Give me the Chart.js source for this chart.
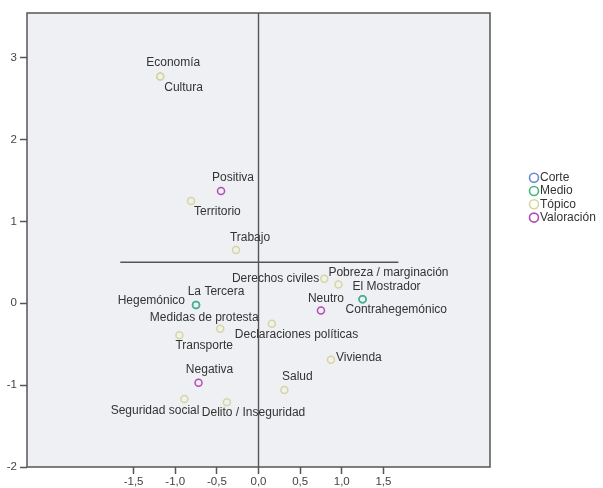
<!DOCTYPE html>
<html>
<head>
<meta charset="utf-8">
<script src="https://cdn.jsdelivr.net/npm/chart.js@4"></script>
<style>
  html, body { margin: 0; padding: 0; background: #fff; }
  #wrap { width: 603px; height: 488px; }
</style>
</head>
<body>
<div id="wrap"><canvas id="plot" width="603" height="488"></canvas></div>
<script>
// Corte
const corteLabels = ['Hegemónico', 'Contrahegemónico'];
const corteX = [-0.75, 1.25];
const corteY = [-0.02, 0.05];

// Medio
const medioLabels = ['La Tercera', 'El Mostrador'];
const medioX = [-0.75, 1.25];
const medioY = [-0.02, 0.05];

// Tópico
const topicoLabels = ['Economía', 'Cultura', 'Territorio', 'Trabajo', 'Derechos civiles',
    'Pobreza / marginación', 'Declaraciones políticas', 'Vivienda', 'Salud',
    'Medidas de protesta', 'Transporte', 'Seguridad social', 'Delito / Inseguridad'];
const topicoX = [-1.18, -1.18, -0.81, -0.27, 0.79, 0.96, 0.16, 0.87, 0.31, -0.46, -0.95, -0.89, -0.38];
const topicoY = [2.77, 2.77, 1.25, 0.65, 0.30, 0.23, -0.25, -0.69, -1.06, -0.31, -0.39, -1.17, -1.21];

// Valoración
const valorLabels = ['Positiva', 'Neutro', 'Negativa'];
const valorX = [-0.45, 0.75, -0.72];
const valorY = [1.37, -0.09, -0.97];

const xTicks = [-1.5, -1.0, -0.5, 0.0, 0.5, 1.0, 1.5];
const yTicks = [-2, -1, 0, 1, 2, 3];
const xRange = [-2.78, 2.78];
const yRange = [-2, 3.545];
const refLineY = 0.5;
const refLineX = [-1.66, 1.68];

const FONT = '"Liberation Sans", Arial, sans-serif';

// where each point's text sits next to its marker
const labelPlace = {
    'Economía': ['center', 13, -14],
    'Cultura': ['left', 4, 11],
    'Positiva': ['center', 12, -13],
    'Territorio': ['left', 3, 11],
    'Trabajo': ['center', 14, -12],
    'Derechos civiles': ['right', -5, 0],
    'Pobreza / marginación': ['left', -10, -12],
    'El Mostrador': ['left', -10, -12],
    'Contrahegemónico': ['left', -17, 11],
    'Neutro': ['center', 5, -12],
    'Declaraciones políticas': ['left', -37, 11],
    'Vivienda': ['left', 5, -2],
    'Salud': ['center', 13, -13],
    'La Tercera': ['center', 20, -13],
    'Hegemónico': ['right', -11, -4],
    'Medidas de protesta': ['center', -16, -11],
    'Transporte': ['left', -4, 11],
    'Negativa': ['center', 11, -13],
    'Seguridad social': ['right', 15, 12],
    'Delito / Inseguridad': ['left', -25, 10]
};

function pts(xs, ys, names) {
    return xs.map((x, i) => ({ x: x, y: ys[i], name: names[i] }));
}

function group(label, xs, ys, names, color, order) {
    return {
        type: 'scatter',
        label: label,
        data: pts(xs, ys, names),
        borderColor: color,
        backgroundColor: 'rgba(0,0,0,0)',
        pointRadius: 3.5,
        pointBorderWidth: 1.5,
        order: order
    };
}

function refLine(data) {
    return {
        type: 'line',
        label: '',
        data: data,
        borderColor: '#555',
        borderWidth: 1.4,
        pointRadius: 0,
        fill: false,
        isRef: true,
        order: 10
    };
}

const plotBg = {
    id: 'plotBg',
    beforeDraw(chart) {
        const a = chart.chartArea, c = chart.ctx;
        c.save();
        c.fillStyle = '#eef0f3';
        c.fillRect(a.left, a.top, a.right - a.left, a.bottom - a.top);
        c.restore();
    },
    afterDraw(chart) {
        const a = chart.chartArea, c = chart.ctx;
        c.save();
        c.strokeStyle = '#555';
        c.lineWidth = 1.5;
        c.strokeRect(a.left, a.top, a.right - a.left, a.bottom - a.top);
        c.restore();
    }
};

const pointText = {
    id: 'pointText',
    afterDatasetsDraw(chart) {
        const c = chart.ctx;
        c.save();
        c.font = '12px ' + FONT;
        c.fillStyle = '#333';
        c.textBaseline = 'middle';
        chart.data.datasets.forEach((ds, di) => {
            if (ds.isRef) return;
            const meta = chart.getDatasetMeta(di);
            meta.data.forEach((el, i) => {
                const name = ds.data[i].name;
                const p = labelPlace[name] || ['left', 5, 0];
                c.textAlign = p[0];
                c.fillText(name, el.x + p[1], el.y + p[2]);
            });
        });
        c.restore();
    }
};

const sideLegend = {
    id: 'sideLegend',
    afterDraw(chart) {
        const c = chart.ctx;
        let y = 177.7;
        c.save();
        c.font = '12px ' + FONT;
        c.textBaseline = 'middle';
        c.textAlign = 'left';
        chart.data.datasets.filter(d => !d.isRef).forEach(ds => {
            c.beginPath();
            c.arc(534, y, 4.5, 0, Math.PI * 2);
            c.strokeStyle = ds.borderColor;
            c.lineWidth = 1.6;
            c.stroke();
            c.fillStyle = '#333';
            c.fillText(ds.label, 540, y);
            y += 13.3;
        });
        c.restore();
    }
};

new Chart(document.getElementById('plot').getContext('2d'), {
    data: {
        datasets: [
            group('Corte', corteX, corteY, corteLabels, '#6b87d6', 5),
            group('Medio', medioX, medioY, medioLabels, '#3fb97a', 1),
            group('Tópico', topicoX, topicoY, topicoLabels, '#d9d59e', 1),
            group('Valoración', valorX, valorY, valorLabels, '#b44bb8', 1),
            refLine([{ x: 0, y: yRange[0] }, { x: 0, y: yRange[1] }]),
            refLine([{ x: refLineX[0], y: refLineY }, { x: refLineX[1], y: refLineY }])
        ]
    },
    options: {
        responsive: false,
        animation: false,
        layout: { padding: { top: 13, right: 113, left: 0, bottom: 0 } },
        plugins: {
            legend: { display: false },
            tooltip: { enabled: false }
        },
        scales: {
            x: {
                type: 'linear',
                min: xRange[0],
                max: xRange[1],
                afterBuildTicks: s => { s.ticks = xTicks.map(v => ({ value: v })); },
                afterFit: s => { s.height = 21; },
                ticks: {
                    color: '#444',
                    padding: 1,
                    maxRotation: 0,
                    font: { size: 11.5, family: FONT },
                    callback: v => v.toFixed(1).replace('.', ',')
                },
                grid: { drawOnChartArea: false, drawTicks: true, tickLength: 7, tickColor: '#555', tickWidth: 1.5 },
                border: { display: false }
            },
            y: {
                type: 'linear',
                min: yRange[0],
                max: yRange[1],
                afterBuildTicks: s => { s.ticks = yTicks.map(v => ({ value: v })); },
                afterFit: s => { s.width = 27; },
                ticks: {
                    color: '#444',
                    padding: 3,
                    font: { size: 11.5, family: FONT }
                },
                grid: { drawOnChartArea: false, drawTicks: true, tickLength: 7, tickColor: '#555', tickWidth: 1.5 },
                border: { display: false }
            }
        }
    },
    plugins: [plotBg, pointText, sideLegend]
});
</script>
</body>
</html>
